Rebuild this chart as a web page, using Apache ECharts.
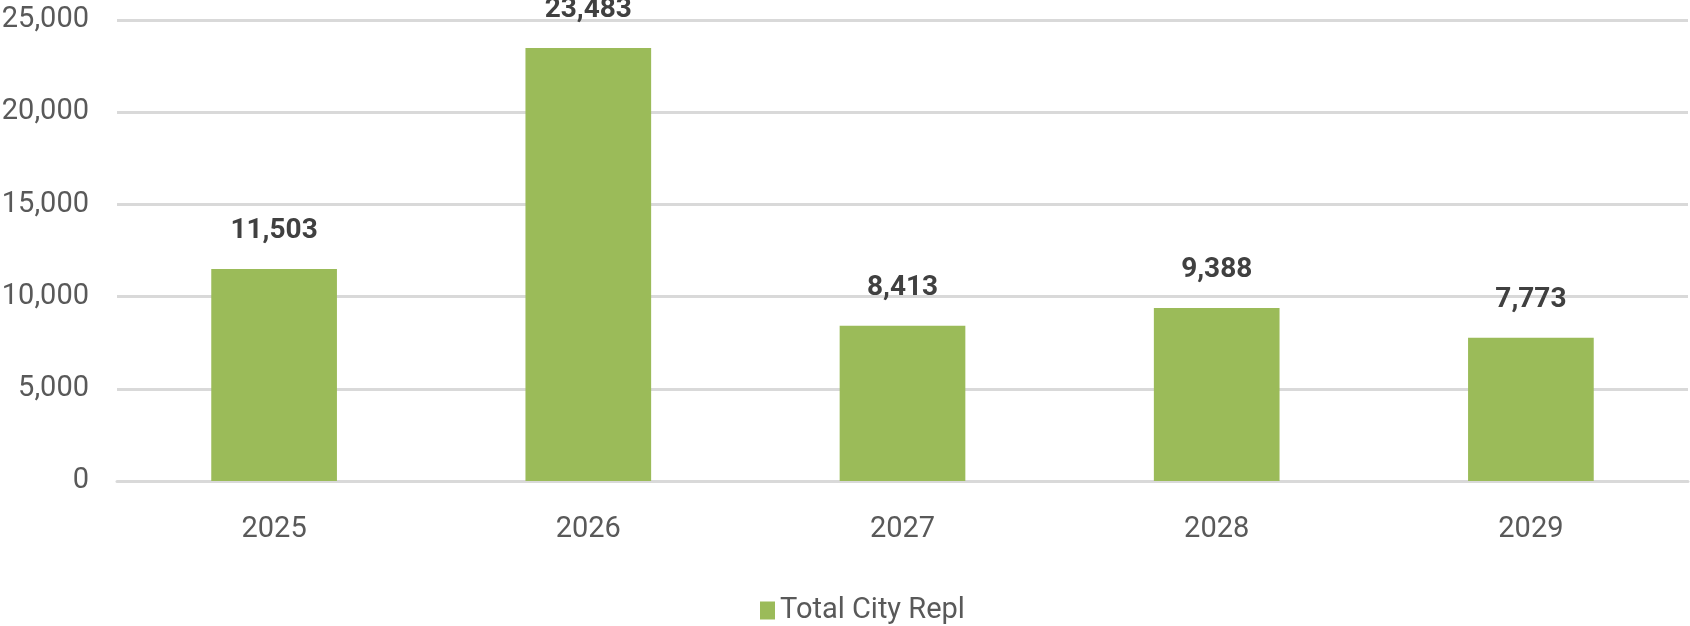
<!DOCTYPE html>
<html>
<head>
<meta charset="utf-8">
<script src="https://cdn.jsdelivr.net/npm/echarts@6/dist/echarts.min.js"></script>
<style>
  html, body { margin: 0; padding: 0; background: #fff; }
  #chart { width: 1690px; height: 626px; }
</style>
</head>
<body>
<div id="chart"></div>
<script>
const categories = ["2025", "2026", "2027", "2028", "2029"];
const totalCityRepl = [11503, 23483, 8413, 9388, 7773];
const seriesName = "Total City Repl";

const FONT = "Roboto, 'DejaVu Sans Condensed', sans-serif";
const fmt = (v) => Number(v).toLocaleString("en-US");

const chart = echarts.init(document.getElementById("chart"));

chart.setOption({
  animation: false,
  backgroundColor: "#ffffff",
  grid: { left: 117, right: 2, top: 20, bottom: 145, outerBoundsMode: "none", containLabel: false },
  legend: {
    data: [seriesName],
    left: 755,
    top: 591,
    icon: "rect",
    itemWidth: 15,
    itemHeight: 18,
    textStyle: { color: "#595959", fontSize: 29, fontFamily: FONT }
  },
  xAxis: {
    type: "category",
    data: categories,
    axisLine: { show: true, lineStyle: { color: "#d9d9d9", width: 3 } },
    axisTick: { show: false },
    axisLabel: { color: "#595959", fontSize: 29, fontFamily: FONT, margin: 34 }
  },
  yAxis: {
    type: "value",
    min: 0,
    max: 25000,
    interval: 5000,
    axisLine: { show: false },
    axisTick: { show: false },
    splitLine: { lineStyle: { color: "#d9d9d9", width: 3 } },
    axisLabel: {
      color: "#595959",
      fontSize: 29,
      fontFamily: FONT,
      margin: 28,
      formatter: (v) => fmt(v)
    }
  },
  series: [
    {
      name: seriesName,
      type: "bar",
      data: totalCityRepl,
      barWidth: "40%",
      itemStyle: { color: "#9bbb59" },
      label: {
        show: true,
        position: "top",
        distance: 24,
        color: "#404040",
        fontSize: 28,
        fontWeight: "bold",
        fontFamily: FONT,
        formatter: (p) => fmt(p.value)
      }
    }
  ]
});
</script>
</body>
</html>
